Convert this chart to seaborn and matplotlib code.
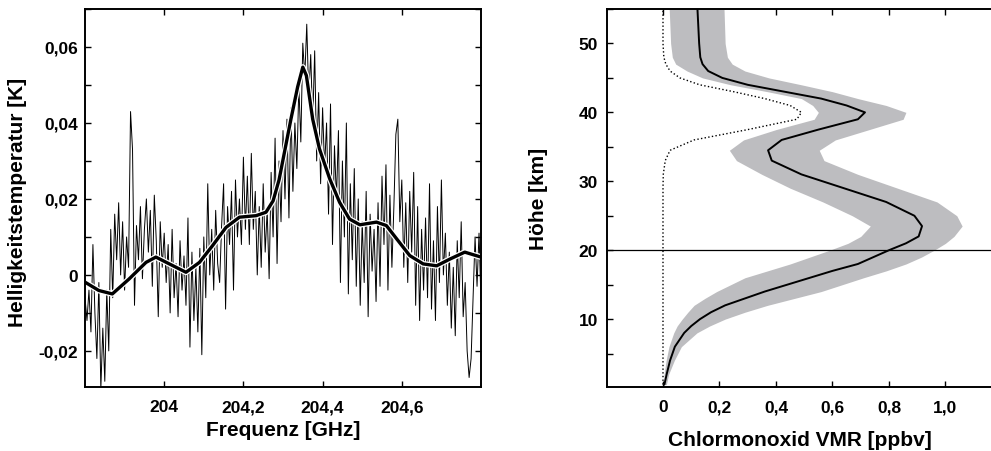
import numpy as np
import seaborn as sns
import matplotlib.pyplot as plt
from matplotlib.ticker import MultipleLocator, FuncFormatter, FixedLocator

# --- Daten links: Spektrum (mK), Kanalabstand 0,005 GHz ab 203,80 GHz ---
f_start = 203.80
f_step = 0.005
spectrum_mK = [
    -6, -12, -4, -15, 8, -10, -22, -2, -30, -14, -28, -4, -20, 12, -6, 16, 4, 19, 0, 14,
    -4, 10, 2, 43, 33, -8, 13, 4, 18, -1, 12, 20, 6, 17, -3, 21, 9, -11, 14, 2,
    11, -2, 8, -10, 12, -6, 3, -11, 9, -4, 5, -8, 15, -19, 6, -12, 2, -15, 7, -21,
    10, -6, 24, 0, 12, -4, 17, 3, -2, 13, 24, -9, 18, 8, 22, -4, 25, 10, 20, 8,
    31, 12, 26, 8, 32, 12, 22, 0, 18, 2, 24, 6, 17, -1, 27, 10, 36, 3, 30, 14,
    38, 20, 41, 15, 44, 22, 40, 28, 50, 35, 61, 52, 66, 47, 58, 40, 59, 30, 48, 24,
    44, 28, 40, 16, 45, 8, 34, 20, 38, -2, 30, 10, 40, -5, 24, 4, 28, -3, 20, -8,
    14, -2, 22, -11, 16, 1, 12, -7, 19, -3, 26, 8, 29, -4, 21, 2, 18, 37, 41, 14,
    25, 2, 19, -2, 22, 6, 27, -8, 18, -12, 12, -4, 15, -6, 24, -9, 9, -12, 18, -2,
    25, 0, 11, -8, 6, -14, 2, -16, 9, -6, 14, -11, -2, -20, -27, -22, -6, 10, -3, 11,
    -7,
]
# geglaetteter Fit (Stuetzstellen)
fit_ghz = [203.80, 203.835, 203.869, 203.911, 203.954, 203.979, 204.013, 204.055, 204.089,
           204.122, 204.156, 204.19, 204.232, 204.257, 204.275, 204.29, 204.305, 204.32,
           204.337, 204.35, 204.359, 204.375, 204.392, 204.418, 204.443, 204.468, 204.494,
           204.536, 204.561, 204.587, 204.62, 204.654, 204.688, 204.722, 204.759, 204.80]
fit_mK = [-1.9, -4.1, -5.0, -1.1, 3.3, 4.7, 2.9, 0.7, 3.3,
          7.7, 12.5, 15.2, 15.6, 16.5, 19.5, 25.0, 33.0, 41.0,
          49.5, 54.7, 52.5, 41.0, 33.2, 25.3, 19.1, 14.7, 13.2,
          13.9, 13.0, 9.5, 5.1, 2.9, 2.4, 4.2, 6.0, 4.7]

# --- Daten rechts: ClO-Profil ---
hoehe_km = [0.5, 2, 4, 6, 8, 9, 10, 11, 12, 13, 14, 15, 16, 17, 18, 19, 20, 21, 22, 23.5,
            25, 27, 29, 31, 33, 34.5, 36, 37.5, 39, 40, 41, 42, 43, 44, 45, 46, 47, 48, 50, 55]
clo_mittel = [0.005, 0.013, 0.025, 0.042, 0.075, 0.10, 0.131, 0.17, 0.22, 0.29,
              0.36, 0.44, 0.52, 0.60, 0.69, 0.745, 0.80, 0.86, 0.905, 0.917,
              0.89, 0.79, 0.64, 0.49, 0.385, 0.372, 0.42, 0.55, 0.69, 0.715,
              0.65, 0.56, 0.43, 0.30, 0.21, 0.16, 0.14, 0.132, 0.128, 0.122]
clo_unten = [0.001, 0.004, 0.011, 0.021, 0.038, 0.05, 0.068, 0.088, 0.11, 0.148,
             0.19, 0.24, 0.29, 0.37, 0.45, 0.52, 0.59, 0.655, 0.70, 0.734,
             0.67, 0.566, 0.45, 0.35, 0.26, 0.235, 0.285, 0.40, 0.535, 0.55,
             0.53, 0.49, 0.37, 0.24, 0.14, 0.085, 0.045, 0.033, 0.027, 0.022]
clo_oben = [0.012, 0.02, 0.04, 0.065, 0.12, 0.165, 0.22, 0.29, 0.37, 0.465,
            0.56, 0.635, 0.71, 0.79, 0.86, 0.915, 0.96, 1.0, 1.03, 1.059,
            1.04, 0.97, 0.83, 0.69, 0.57, 0.553, 0.61, 0.73, 0.85, 0.86,
            0.79, 0.69, 0.60, 0.49, 0.375, 0.29, 0.245, 0.228, 0.22, 0.216]
clo_apriori = [0, 0, 0, 0, 0, 0, 0, 0, 0, 0,
               0, 0, 0, 0, 0, 0, 0, 0, 0, 0,
               0, 0, 0, 0.001, 0.008, 0.025, 0.11, 0.30, 0.474, 0.49,
               0.45, 0.36, 0.25, 0.13, 0.06, 0.025, 0.01, 0.003, 0.0, 0.0]

freq = f_start + f_step * np.arange(len(spectrum_mK))
spec = np.array(spectrum_mK) / 1000.0
fit = np.array(fit_mK) / 1000.0

sns.set_style("ticks")
plt.rcParams["font.family"] = ["Liberation Sans", "DejaVu Sans"]
plt.rcParams["font.weight"] = "bold"
plt.rcParams["axes.labelweight"] = "bold"
for key in ["text.color", "axes.labelcolor", "xtick.color", "ytick.color", "axes.edgecolor"]:
    plt.rcParams[key] = "black"


def komma(v, pos):
    s = f"{v:.2f}".rstrip("0").rstrip(".")
    if s == "-0":
        s = "0"
    return s.replace(".", ",")


fig = plt.figure(figsize=(9.91, 4.52), dpi=100)
ax1 = fig.add_axes([85 / 991, 64 / 452, 396 / 991, 378 / 452])
ax2 = fig.add_axes([606.5 / 991, 64 / 452, 387 / 991, 378 / 452])

# --- links: Spektrum ---
sns.lineplot(x=freq, y=spec, ax=ax1, color="black", lw=0.7, estimator=None, sort=False)
sns.lineplot(x=fit_ghz, y=fit, ax=ax1, color="white", lw=4.2, estimator=None, sort=False)
sns.lineplot(x=fit_ghz, y=fit, ax=ax1, color="black", lw=2.4, estimator=None, sort=False)

ax1.set_xlim(203.8, 204.8)
ax1.set_ylim(-0.0295, 0.07)
ax1.xaxis.set_major_locator(FixedLocator([204.0, 204.2, 204.4, 204.6]))
ax1.yaxis.set_major_locator(MultipleLocator(0.02))
ax1.yaxis.set_minor_locator(MultipleLocator(0.01))
ax1.xaxis.set_major_formatter(FuncFormatter(komma))
ax1.yaxis.set_major_formatter(FuncFormatter(komma))
ax1.tick_params(which="both", direction="in", length=4, width=1, top=True, right=True,
                labelsize=12.5)
ax1.tick_params(axis="x", pad=9)
ax1.tick_params(axis="y", pad=5)
ax1.set_xlabel("Frequenz [GHz]", fontsize=15, labelpad=4)
ax1.set_ylabel("Helligkeitstemperatur [K]", fontsize=15)
ax1.yaxis.set_label_coords(-0.147, 0.49)
for s in ax1.spines.values():
    s.set_linewidth(1.4)

# --- rechts: ClO-Profil ---
ax2.fill_betweenx(hoehe_km, clo_unten, clo_oben, color="#bdbdc0", lw=0)
sns.lineplot(x=clo_apriori, y=hoehe_km, ax=ax2, color="black", lw=1.0, linestyle=":",
             estimator=None, sort=False)
sns.lineplot(x=clo_mittel, y=hoehe_km, ax=ax2, color="black", lw=1.4,
             estimator=None, sort=False)
ax2.axhline(20, color="black", lw=0.9)

ax2.set_xlim(-0.2, 1.17)
ax2.set_ylim(0.15, 55)
ax2.xaxis.set_major_locator(FixedLocator([0, 0.2, 0.4, 0.6, 0.8, 1.0]))
ax2.set_xticklabels(["0", "0,2", "0,4", "0,6", "0,8", "1,0"])
ax2.yaxis.set_major_locator(FixedLocator([10, 20, 30, 40, 50]))
ax2.yaxis.set_minor_locator(MultipleLocator(5))
ax2.tick_params(which="both", direction="in", length=4, width=1, top=True, right=False,
                labelsize=12.5)
ax2.tick_params(axis="x", pad=9)
ax2.tick_params(axis="y", pad=6)
ax2.set_xlabel("Chlormonoxid VMR [ppbv]", fontsize=15, labelpad=11)
ax2.set_ylabel("Höhe [km]", fontsize=15)
ax2.yaxis.set_label_coords(-0.15, 0.5)
for s in ax2.spines.values():
    s.set_linewidth(1.4)
ax2.spines["right"].set_visible(False)

fig.savefig("out.png", dpi=100)
